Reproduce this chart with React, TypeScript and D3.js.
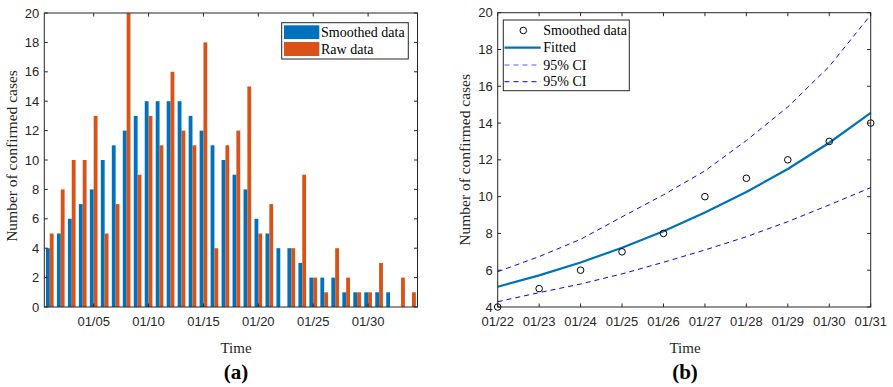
import React from "react";
import * as d3 from "d3";

// ---------- Data: panel (a) ----------
const daysA: string[] = [
  "01/01","01/02","01/03","01/04","01/05","01/06","01/07","01/08","01/09","01/10",
  "01/11","01/12","01/13","01/14","01/15","01/16","01/17","01/18","01/19","01/20",
  "01/21","01/22","01/23","01/24","01/25","01/26","01/27","01/28","01/29","01/30",
  "01/31","02/01","02/02","02/03",
];
const smoothedA: number[] = [4,5,6,7,8,10,11,12,13,14,14,14,14,13,12,11,10,9,8,6,5,4,4,3,2,2,2,1,1,1,1,1,0,0];
const rawA: number[] = [5,8,10,10,13,5,7,20,9,13,11,16,12,11,18,4,11,12,15,5,7,0,4,9,2,1,4,2,1,1,3,0,2,1];
const xTickLabelsA: string[] = ["01/05","01/10","01/15","01/20","01/25","01/30"];
const yTicksA: number[] = [0,2,4,6,8,10,12,14,16,18,20];

// ---------- Data: panel (b) ----------
const datesB: string[] = ["01/22","01/23","01/24","01/25","01/26","01/27","01/28","01/29","01/30","01/31"];
const smoothedB: number[] = [4,5,6,7,8,10,11,12,13,14];
const fittedB: number[] = [5.1,5.72,6.42,7.22,8.12,9.14,10.25,11.5,12.93,14.55];
const upperB: number[] = [5.92,6.74,7.68,8.9,10.1,11.4,13.05,14.88,17.08,19.88];
const lowerB: number[] = [4.29,4.78,5.25,5.8,6.43,7.1,7.82,8.64,9.55,10.49];
const yTicksB: number[] = [4,6,8,10,12,14,16,18,20];

const BLUE = "#0072BD";
const ORANGE = "#D95319";
const AX = "#262626";
const SANS = "'Liberation Sans', Arial, sans-serif";
const SERIF = "'Liberation Serif', 'Times New Roman', serif";
const TICK = 3.5;

function PanelA() {
  const L = 44.3, R = 417.5, T = 13, B = 307;
  const x = d3.scaleLinear().domain([0.5, daysA.length + 0.5]).range([L, R]);
  const y = d3.scaleLinear().domain([0, 20]).range([B, T]);
  const step = x(2) - x(1);
  const bw = step * 0.35;
  return (
    <g>
      {daysA.map((d, i) => (
        <g key={d}>
          {smoothedA[i] > 0 && (
            <rect x={x(i + 1) - bw} y={y(smoothedA[i])} width={bw} height={B - y(smoothedA[i])} fill={BLUE} />
          )}
          {rawA[i] > 0 && (
            <rect x={x(i + 1)} y={y(rawA[i])} width={bw} height={B - y(rawA[i])} fill={ORANGE} />
          )}
        </g>
      ))}
      {/* box */}
      <rect x={L} y={T} width={R - L} height={B - T} fill="none" stroke={AX} strokeWidth={1} />
      {yTicksA.map((t) => (
        <g key={t}>
          <line x1={L} x2={L + TICK} y1={y(t)} y2={y(t)} stroke={AX} />
          <line x1={R} x2={R - TICK} y1={y(t)} y2={y(t)} stroke={AX} />
          <text x={L - 5} y={y(t) + 4.5} textAnchor="end" fontFamily={SANS} fontSize={13} fill={AX}>{t}</text>
        </g>
      ))}
      {xTickLabelsA.map((lab) => {
        const xi = x(daysA.indexOf(lab) + 1);
        return (
          <g key={lab}>
            <line x1={xi} x2={xi} y1={B} y2={B - TICK} stroke={AX} />
            <line x1={xi} x2={xi} y1={T} y2={T + TICK} stroke={AX} />
            <text x={xi} y={326} textAnchor="middle" fontFamily={SANS} fontSize={13} fill={AX}>{lab}</text>
          </g>
        );
      })}
      {/* legend */}
      <rect x={281.7} y={22.7} width={126.6} height={36.3} fill="white" stroke={AX} strokeWidth={1} />
      <rect x={284} y={25.3} width={35.3} height={13.8} fill={BLUE} />
      <rect x={284} y={42} width={35.3} height={14} fill={ORANGE} />
      <text x={321} y={37} fontFamily={SERIF} fontSize={14} fill="#000">Smoothed data</text>
      <text x={321} y={53.5} fontFamily={SERIF} fontSize={14} fill="#000">Raw data</text>
      {/* labels */}
      <text transform={`translate(17,${(T + B) / 2 - 4}) rotate(-90)`} textAnchor="middle" fontFamily={SERIF} fontSize={15.5} fill={AX}>Number of confirmed cases</text>
      <text x={236} y={353} textAnchor="middle" fontFamily={SERIF} fontSize={15} fill={AX}>Time</text>
      <text x={236} y={379} textAnchor="middle" fontFamily={SERIF} fontSize={21} fontWeight="bold" fill="#000">(a)</text>
    </g>
  );
}

function PanelB() {
  const L = 497.7, R = 870.7, T = 12.7, B = 307;
  const x = d3.scaleLinear().domain([0, datesB.length - 1]).range([L, R]);
  const y = d3.scaleLinear().domain([4, 20]).range([B, T]);
  const line = d3.line<number>().x((_, i) => x(i)).y((v) => y(v));
  return (
    <g>
      <path d={line(upperB) || ""} fill="none" stroke="#0000FF" strokeWidth={1} strokeDasharray="5,4" />
      <path d={line(lowerB) || ""} fill="none" stroke="#0000FF" strokeWidth={1} strokeDasharray="5,4" />
      <path d={line(fittedB) || ""} fill="none" stroke={BLUE} strokeWidth={2.2} />
      {smoothedB.map((v, i) => (
        <circle key={i} cx={x(i)} cy={y(v)} r={3.3} fill="none" stroke="#000" strokeWidth={1} />
      ))}
      <rect x={L} y={T} width={R - L} height={B - T} fill="none" stroke={AX} strokeWidth={1} />
      {yTicksB.map((t) => (
        <g key={t}>
          <line x1={L} x2={L + TICK} y1={y(t)} y2={y(t)} stroke={AX} />
          <line x1={R} x2={R - TICK} y1={y(t)} y2={y(t)} stroke={AX} />
          <text x={L - 5} y={y(t) + 4.5} textAnchor="end" fontFamily={SANS} fontSize={13} fill={AX}>{t}</text>
        </g>
      ))}
      {datesB.map((lab, i) => (
        <g key={lab}>
          <line x1={x(i)} x2={x(i)} y1={B} y2={B - TICK} stroke={AX} />
          <line x1={x(i)} x2={x(i)} y1={T} y2={T + TICK} stroke={AX} />
          <text x={x(i)} y={326} textAnchor="middle" fontFamily={SANS} fontSize={13} fill={AX}>{lab}</text>
        </g>
      ))}
      {/* legend */}
      <rect x={503.3} y={20} width={126} height={70.7} fill="white" stroke={AX} strokeWidth={1} />
      <circle cx={523.3} cy={30.5} r={3.3} fill="none" stroke="#000" />
      <text x={543.3} y={35} fontFamily={SERIF} fontSize={14} fill="#000">Smoothed data</text>
      <line x1={504.5} x2={540.7} y1={47.7} y2={47.7} stroke={BLUE} strokeWidth={2.2} />
      <text x={543.3} y={52.3} fontFamily={SERIF} fontSize={14} fill="#000">Fitted</text>
      <line x1={504.5} x2={540.7} y1={65} y2={65} stroke="#5555FF" strokeWidth={1} strokeDasharray="5,4" />
      <text x={543.3} y={69.5} fontFamily={SERIF} fontSize={14} fill="#000">95% CI</text>
      <line x1={504.5} x2={540.7} y1={81.7} y2={81.7} stroke="#0000FF" strokeWidth={1} strokeDasharray="5,4" />
      <text x={543.3} y={86.2} fontFamily={SERIF} fontSize={14} fill="#000">95% CI</text>
      {/* labels */}
      <text transform={`translate(470,${(T + B) / 2}) rotate(-90)`} textAnchor="middle" fontFamily={SERIF} fontSize={15.5} fill={AX}>Number of confirmed cases</text>
      <text x={685} y={353} textAnchor="middle" fontFamily={SERIF} fontSize={15} fill={AX}>Time</text>
      <text x={685} y={379} textAnchor="middle" fontFamily={SERIF} fontSize={21} fontWeight="bold" fill="#000">(b)</text>
    </g>
  );
}

export default function App() {
  return (
    <svg
      width={893}
      height={387}
      viewBox="0 0 893 387"
      style={{ position: "absolute", left: 0, top: 0, background: "white" }}
    >
      <rect x={0} y={0} width={893} height={387} fill="white" />
      <PanelA />
      <PanelB />
    </svg>
  );
}
